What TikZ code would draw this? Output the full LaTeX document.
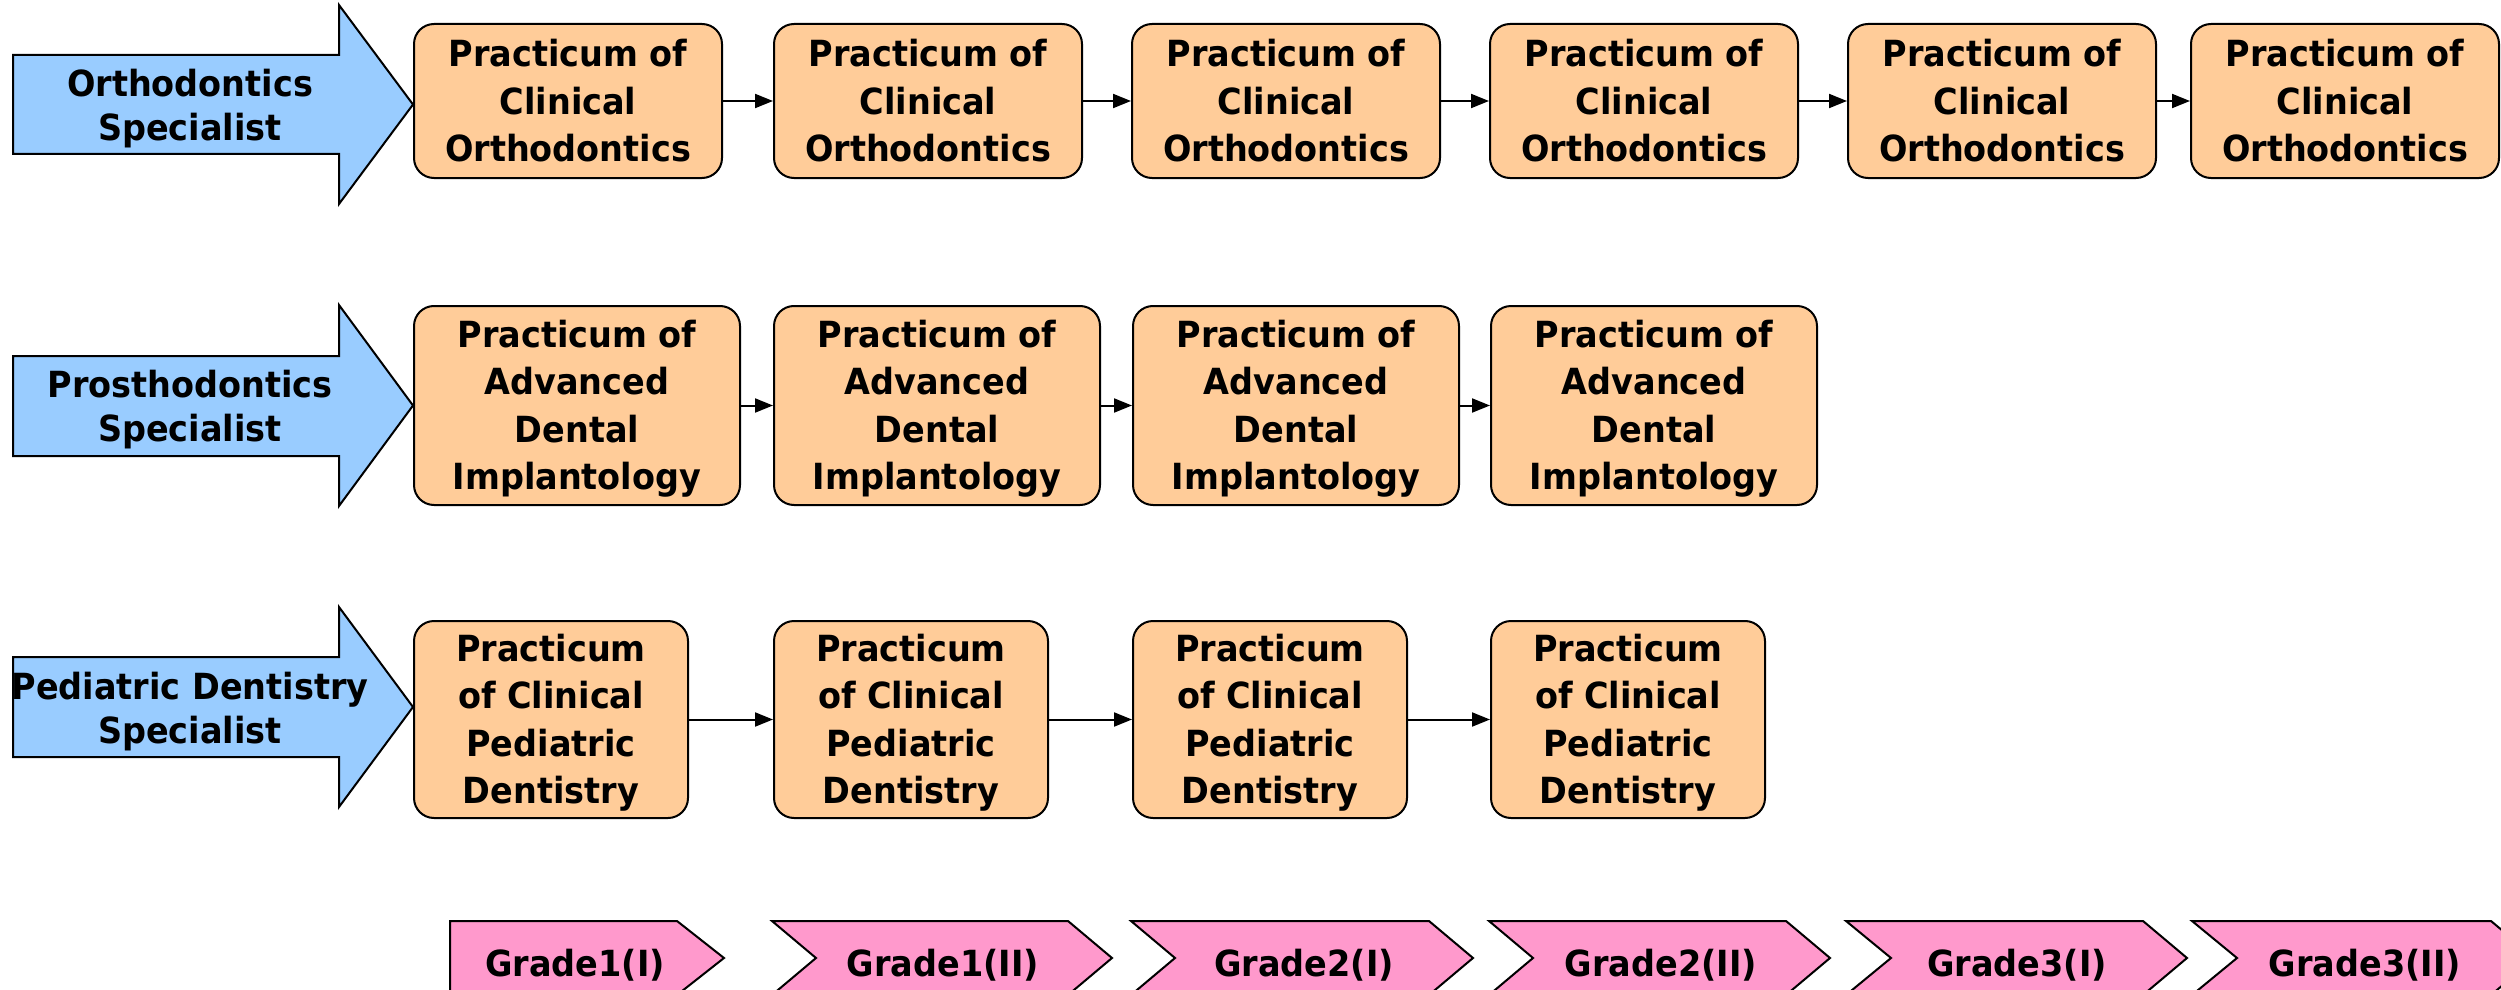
\documentclass[tikz,border=0pt]{standalone}
\usepackage{fontspec}
\newfontfamily\lbl{DejaVu Sans}[FakeStretch=0.93]
\usetikzlibrary{arrows.meta}
\definecolor{bluefill}{HTML}{99CCFF}
\definecolor{peach}{HTML}{FFCC99}
\definecolor{pinkfill}{HTML}{FF99CC}
\newcommand\Tp{\rule{0pt}{18.5pt}}
\newcommand\Bt{\rule[-5.4pt]{0pt}{5.4pt}}
\tikzset{
  box/.style={draw=black, line width=1pt, fill=peach, rounded corners=10pt,
    inner sep=0pt, align=center, font=\lbl\bfseries\fontsize{18}{23.75}\selectfont},
  rowA/.style={box, minimum width=154pt, minimum height=77pt},
  rowB/.style={box, minimum width=163pt, minimum height=99.5pt},
  rowC/.style={box, minimum width=137pt, minimum height=98.5pt},
  lab/.style={inner sep=0pt, align=center, font=\lbl\bfseries\fontsize{18}{22}\selectfont},
  gradetxt/.style={inner sep=0pt, anchor=base, font=\lbl\bfseries\fontsize{18}{22}\selectfont},
  bigarrow/.style={draw=black, line width=1pt, fill=bluefill, line join=miter},
  chev/.style={draw=black, line width=1pt, fill=pinkfill, line join=miter},
  conn/.style={draw=black, line width=1pt, -{Triangle[length=9pt,width=7pt]}}
}
\begin{document}
\begin{tikzpicture}[x=0.5pt, y=-0.5pt]
\fill[white] (0,0) rectangle (2501,990);
\useasboundingbox (0,0) rectangle (2501,990);

% ---- blue specialist arrows
\path[bigarrow] (13,55) -- (339,55) -- (339,5) -- (413,104.5) -- (339,204) -- (339,154) -- (13,154) -- cycle;
\path[bigarrow] (13,356) -- (339,356) -- (339,305) -- (413,405.5) -- (339,506) -- (339,456) -- (13,456) -- cycle;
\path[bigarrow] (13,657) -- (339,657) -- (339,607) -- (413,707) -- (339,807) -- (339,757) -- (13,757) -- cycle;
\node[lab] (l1) at (190,105.5) {\Tp Orthodontics\\Specialist\Bt};
\node[lab] (l2) at (190,406.5) {\Tp Prosthodontics\\Specialist\Bt};
\node[lab] (l3) at (190,708) {\Tp Pediatric Dentistry\\Specialist\Bt};

% ---- row 1
\node[rowA] (a1) at (568,101) {\Tp Practicum of\\Clinical\\Orthodontics\Bt};
\node[rowA] (a2) at (928,101) {\Tp Practicum of\\Clinical\\Orthodontics\Bt};
\node[rowA] (a3) at (1286,101) {\Tp Practicum of\\Clinical\\Orthodontics\Bt};
\node[rowA] (a4) at (1644,101) {\Tp Practicum of\\Clinical\\Orthodontics\Bt};
\node[rowA] (a5) at (2002,101) {\Tp Practicum of\\Clinical\\Orthodontics\Bt};
\node[rowA] (a6) at (2345,101) {\Tp Practicum of\\Clinical\\Orthodontics\Bt};
\draw[conn] (a1.east) -- (a2.west);
\draw[conn] (a2.east) -- (a3.west);
\draw[conn] (a3.east) -- (a4.west);
\draw[conn] (a4.east) -- (a5.west);
\draw[conn] (a5.east) -- (a6.west);

% ---- row 2
\node[rowB] (b1) at (577,405.5) {\Tp Practicum of\\Advanced\\Dental\\Implantology\Bt};
\node[rowB] (b2) at (937,405.5) {\Tp Practicum of\\Advanced\\Dental\\Implantology\Bt};
\node[rowB] (b3) at (1296,405.5) {\Tp Practicum of\\Advanced\\Dental\\Implantology\Bt};
\node[rowB] (b4) at (1654,405.5) {\Tp Practicum of\\Advanced\\Dental\\Implantology\Bt};
\draw[conn] (b1.east) -- (b2.west);
\draw[conn] (b2.east) -- (b3.west);
\draw[conn] (b3.east) -- (b4.west);

% ---- row 3
\node[rowC] (c1) at (551,719.5) {\Tp Practicum\\of Clinical\\Pediatric\\Dentistry\Bt};
\node[rowC] (c2) at (911,719.5) {\Tp Practicum\\of Clinical\\Pediatric\\Dentistry\Bt};
\node[rowC] (c3) at (1270,719.5) {\Tp Practicum\\of Clinical\\Pediatric\\Dentistry\Bt};
\node[rowC] (c4) at (1628,719.5) {\Tp Practicum\\of Clinical\\Pediatric\\Dentistry\Bt};
\draw[conn] (c1.east) -- (c2.west);
\draw[conn] (c2.east) -- (c3.west);
\draw[conn] (c3.east) -- (c4.west);

% ---- grade chevrons
\path[chev] (450,921) -- (677,921) -- (724,958) -- (677,995) -- (450,995) -- cycle;
\path[chev] (772,921) -- (1068,921) -- (1112,958) -- (1068,995) -- (772,995) -- (816,958) -- cycle;
\path[chev] (1131,921) -- (1429,921) -- (1473,958) -- (1429,995) -- (1131,995) -- (1175,958) -- cycle;
\path[chev] (1489,921) -- (1786,921) -- (1830,958) -- (1786,995) -- (1489,995) -- (1533,958) -- cycle;
\path[chev] (1846,921) -- (2143,921) -- (2187,958) -- (2143,995) -- (1846,995) -- (1891,958) -- cycle;
\path[chev] (2192,921) -- (2491,921) -- (2535,958) -- (2491,995) -- (2192,995) -- (2237,958) -- cycle;
\node[gradetxt] (g1) at (575,976) {Grade1(I)};
\node[gradetxt] (g2) at (943,976) {Grade1(II)};
\node[gradetxt] (g3) at (1304,976) {Grade2(I)};
\node[gradetxt] (g4) at (1661,976) {Grade2(II)};
\node[gradetxt] (g5) at (2017,976) {Grade3(I)};
\node[gradetxt] (g6) at (2365,976) {Grade3(II)};
\end{tikzpicture}
\end{document}
